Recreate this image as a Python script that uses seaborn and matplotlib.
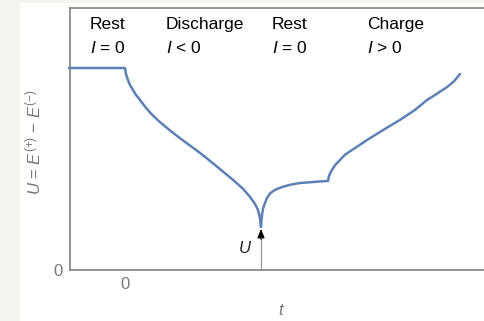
import matplotlib
matplotlib.use("Agg")
import matplotlib.pyplot as plt
import seaborn as sns
import pandas as pd
from matplotlib.patches import Rectangle

# ---- data ----
t_rest1 = [-0.56, 0.0]
u_rest1 = [0.771, 0.771]
t_dis = [0.0, 0.005, 0.01, 0.02, 0.03, 0.05, 0.08, 0.11, 0.15, 0.20, 0.25, 0.33, 0.42, 0.55, 0.75, 0.90, 1.08, 1.18, 1.25, 1.30, 1.33, 1.35, 1.36]
u_dis = [0.771, 0.758, 0.748, 0.735, 0.725, 0.706, 0.687, 0.668, 0.649, 0.624, 0.601, 0.571, 0.542, 0.503, 0.447, 0.401, 0.344, 0.310, 0.279, 0.252, 0.229, 0.198, 0.164]
t_rest2 = [1.36, 1.365, 1.37, 1.38, 1.40, 1.42, 1.45, 1.50, 1.58, 1.66, 1.75, 1.85, 1.92, 2.03]
u_rest2 = [0.164, 0.190, 0.210, 0.234, 0.256, 0.275, 0.292, 0.306, 0.318, 0.326, 0.332, 0.335, 0.337, 0.340]
t_chg = [2.03, 2.035, 2.04, 2.055, 2.07, 2.10, 2.15, 2.20, 2.27, 2.35, 2.42, 2.55, 2.75, 2.90, 3.02, 3.12, 3.22, 3.29, 3.35]
u_chg = [0.340, 0.350, 0.359, 0.372, 0.382, 0.400, 0.420, 0.440, 0.458, 0.478, 0.496, 0.527, 0.573, 0.611, 0.649, 0.673, 0.698, 0.720, 0.748]

phase_names = ["Rest", "Discharge", "Rest", "Charge"]
phase_currents = ["$I$ = 0", "$I$ < 0", "$I$ = 0", "$I$ > 0"]
phase_x = [-0.35, 0.41, 1.47, 2.42]

t_min = 1.36
u_min = 0.157

t_all = t_rest1 + t_dis[1:] + t_rest2[1:] + t_chg[1:]
u_all = u_rest1 + u_dis[1:] + u_rest2[1:] + u_chg[1:]
df = pd.DataFrame({"t": t_all, "U": u_all})

sns.set_theme(style="white")
plt.rcParams["font.family"] = ["Liberation Sans", "DejaVu Sans"]
plt.rcParams["mathtext.fontset"] = "custom"
plt.rcParams["mathtext.rm"] = "Liberation Sans"
plt.rcParams["mathtext.it"] = "Liberation Sans:italic"
plt.rcParams["mathtext.bf"] = "Liberation Sans:bold"

W, H = 485, 321
fig = plt.figure(figsize=(W / 100, H / 100), dpi=100)
fig.patch.set_facecolor("#f5f5f0")
fig.patches.append(Rectangle((20 / W, 0), 1, 1 - 3 / H, transform=fig.transFigure,
                             facecolor="white", edgecolor="none", zorder=-10))

left_px, top_px, bot_px, right_px = 70, 8, 270, 520
ax = fig.add_axes([left_px / W, (H - bot_px) / H, (right_px - left_px) / W, (bot_px - top_px) / H])
ax.set_facecolor("white")

x0 = -0.55
xr = x0 + (right_px - left_px) / 100.0
ax.set_xlim(x0, xr)
ax.set_ylim(0, 1)

sns.lineplot(data=df, x="t", y="U", sort=False, estimator=None, ax=ax,
             color="#5E81B5", linewidth=1.8, clip_on=False, zorder=3)

# arrow to minimum
ax.plot([t_min, t_min], [0, u_min - 0.03], color="#999999", lw=0.9, zorder=2)
ax.annotate("", xy=(t_min, u_min), xytext=(t_min, u_min - 0.04),
            arrowprops=dict(arrowstyle="-|>,head_length=0.45,head_width=0.18",
                            color="black", lw=0.8, shrinkA=0, shrinkB=0))
ax.text(t_min - 0.09, 0.085, "$U$", fontsize=12, color="#222222", ha="right", va="center")

for name, cur, x in zip(phase_names, phase_currents, phase_x):
    ax.text(x, 0.92, name, fontsize=12.5, color="black", ha="left", va="baseline")
    ax.text(x, 0.828, cur, fontsize=12.5, color="black", ha="left", va="baseline")

for s in ["left", "bottom", "top", "right"]:
    ax.spines[s].set_color("#8a8a8a")
    ax.spines[s].set_linewidth(1.3)

ax.set_xticks([0])
ax.set_xticklabels(["0"])
ax.set_yticks([0])
ax.set_yticklabels(["0"])
ax.tick_params(axis="both", direction="in", length=4, width=1.0, color="#8a8a8a",
               labelcolor="#777777", labelsize=12, pad=5)

ax.set_xlabel("$t$", fontsize=12, color="#777777")
ax.set_ylabel("$U$ = $E^{(+)}$ − $E^{(-)}$", fontsize=12, color="#777777")
ax.xaxis.set_label_coords((282 - left_px) / (right_px - left_px), -(303 - bot_px) / (bot_px - top_px))
ax.yaxis.set_label_coords(-(left_px - 43) / (right_px - left_px), (bot_px - 142) / (bot_px - top_px))

fig.savefig("out.png", dpi=100, facecolor=fig.get_facecolor())
